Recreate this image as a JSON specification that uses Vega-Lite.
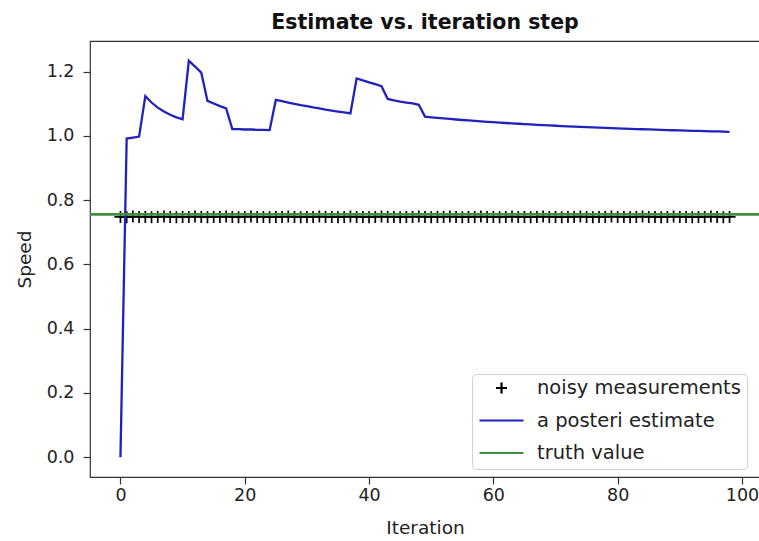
{
  "$schema": "https://vega.github.io/schema/vega-lite/v6.json",
  "width": 670,
  "height": 436,
  "autosize": {"type": "none"},
  "padding": {"left": 90, "top": 41, "right": 0, "bottom": 64},
  "background": "white",
  "config": {
    "view": {"stroke": "#333333", "strokeWidth": 1.2},
    "font": "DejaVu Sans",
    "axis": {
      "grid": false,
      "domain": false,
      "tickColor": "#333333",
      "tickWidth": 1.2,
      "tickSize": 7,
      "labelFont": "DejaVu Sans",
      "labelFontSize": 17.5,
      "labelColor": "#222222",
      "titleFont": "DejaVu Sans",
      "titleFontSize": 18.5,
      "titleFontWeight": "normal",
      "titleColor": "#222222"
    }
  },
  "title": {
    "text": "Estimate vs. iteration step",
    "font": "DejaVu Sans",
    "fontSize": 20.5,
    "fontWeight": "bold",
    "color": "#111111",
    "anchor": "middle",
    "offset": 8
  },
  "datasets": {
    "meas": [
      {"iter": 0, "speed": 0.748}, {"iter": 1, "speed": 0.747}, {"iter": 2, "speed": 0.749}, {"iter": 3, "speed": 0.748}, {"iter": 4, "speed": 0.748},
      {"iter": 5, "speed": 0.747}, {"iter": 6, "speed": 0.748}, {"iter": 7, "speed": 0.749}, {"iter": 8, "speed": 0.748}, {"iter": 9, "speed": 0.747},
      {"iter": 10, "speed": 0.748}, {"iter": 11, "speed": 0.748}, {"iter": 12, "speed": 0.749}, {"iter": 13, "speed": 0.748}, {"iter": 14, "speed": 0.747},
      {"iter": 15, "speed": 0.748}, {"iter": 16, "speed": 0.748}, {"iter": 17, "speed": 0.749}, {"iter": 18, "speed": 0.748}, {"iter": 19, "speed": 0.747},
      {"iter": 20, "speed": 0.748}, {"iter": 21, "speed": 0.749}, {"iter": 22, "speed": 0.748}, {"iter": 23, "speed": 0.748}, {"iter": 24, "speed": 0.747},
      {"iter": 25, "speed": 0.748}, {"iter": 26, "speed": 0.748}, {"iter": 27, "speed": 0.749}, {"iter": 28, "speed": 0.748}, {"iter": 29, "speed": 0.747},
      {"iter": 30, "speed": 0.748}, {"iter": 31, "speed": 0.748}, {"iter": 32, "speed": 0.749}, {"iter": 33, "speed": 0.748}, {"iter": 34, "speed": 0.748},
      {"iter": 35, "speed": 0.747}, {"iter": 36, "speed": 0.748}, {"iter": 37, "speed": 0.749}, {"iter": 38, "speed": 0.748}, {"iter": 39, "speed": 0.748},
      {"iter": 40, "speed": 0.747}, {"iter": 41, "speed": 0.748}, {"iter": 42, "speed": 0.749}, {"iter": 43, "speed": 0.748}, {"iter": 44, "speed": 0.748},
      {"iter": 45, "speed": 0.747}, {"iter": 46, "speed": 0.748}, {"iter": 47, "speed": 0.748}, {"iter": 48, "speed": 0.749}, {"iter": 49, "speed": 0.748},
      {"iter": 50, "speed": 0.747}, {"iter": 51, "speed": 0.748}, {"iter": 52, "speed": 0.748}, {"iter": 53, "speed": 0.749}, {"iter": 54, "speed": 0.748},
      {"iter": 55, "speed": 0.747}, {"iter": 56, "speed": 0.748}, {"iter": 57, "speed": 0.748}, {"iter": 58, "speed": 0.749}, {"iter": 59, "speed": 0.748},
      {"iter": 60, "speed": 0.748}, {"iter": 61, "speed": 0.747}, {"iter": 62, "speed": 0.748}, {"iter": 63, "speed": 0.749}, {"iter": 64, "speed": 0.748},
      {"iter": 65, "speed": 0.748}, {"iter": 66, "speed": 0.747}, {"iter": 67, "speed": 0.748}, {"iter": 68, "speed": 0.749}, {"iter": 69, "speed": 0.748},
      {"iter": 70, "speed": 0.748}, {"iter": 71, "speed": 0.747}, {"iter": 72, "speed": 0.748}, {"iter": 73, "speed": 0.748}, {"iter": 74, "speed": 0.749},
      {"iter": 75, "speed": 0.748}, {"iter": 76, "speed": 0.747}, {"iter": 77, "speed": 0.748}, {"iter": 78, "speed": 0.748}, {"iter": 79, "speed": 0.749},
      {"iter": 80, "speed": 0.748}, {"iter": 81, "speed": 0.748}, {"iter": 82, "speed": 0.747}, {"iter": 83, "speed": 0.748}, {"iter": 84, "speed": 0.749},
      {"iter": 85, "speed": 0.748}, {"iter": 86, "speed": 0.748}, {"iter": 87, "speed": 0.747}, {"iter": 88, "speed": 0.748}, {"iter": 89, "speed": 0.749},
      {"iter": 90, "speed": 0.748}, {"iter": 91, "speed": 0.748}, {"iter": 92, "speed": 0.747}, {"iter": 93, "speed": 0.748}, {"iter": 94, "speed": 0.748},
      {"iter": 95, "speed": 0.749}, {"iter": 96, "speed": 0.748}, {"iter": 97, "speed": 0.747}, {"iter": 98, "speed": 0.748}
    ],
    "est": [
      {"iter": 0, "speed": 0.0}, {"iter": 1, "speed": 0.992}, {"iter": 2, "speed": 0.995}, {"iter": 3, "speed": 0.998}, {"iter": 4, "speed": 1.124},
      {"iter": 5, "speed": 1.104}, {"iter": 6, "speed": 1.088}, {"iter": 7, "speed": 1.076}, {"iter": 8, "speed": 1.066}, {"iter": 9, "speed": 1.058},
      {"iter": 10, "speed": 1.052}, {"iter": 11, "speed": 1.234}, {"iter": 12, "speed": 1.216}, {"iter": 13, "speed": 1.197}, {"iter": 14, "speed": 1.109},
      {"iter": 15, "speed": 1.101}, {"iter": 16, "speed": 1.093}, {"iter": 17, "speed": 1.086}, {"iter": 18, "speed": 1.021}, {"iter": 19, "speed": 1.021},
      {"iter": 20, "speed": 1.020}, {"iter": 21, "speed": 1.020}, {"iter": 22, "speed": 1.019}, {"iter": 23, "speed": 1.019}, {"iter": 24, "speed": 1.018},
      {"iter": 25, "speed": 1.112}, {"iter": 26, "speed": 1.108}, {"iter": 27, "speed": 1.104}, {"iter": 28, "speed": 1.100}, {"iter": 29, "speed": 1.096},
      {"iter": 30, "speed": 1.093}, {"iter": 31, "speed": 1.089}, {"iter": 32, "speed": 1.086}, {"iter": 33, "speed": 1.082}, {"iter": 34, "speed": 1.079},
      {"iter": 35, "speed": 1.076}, {"iter": 36, "speed": 1.073}, {"iter": 37, "speed": 1.070}, {"iter": 38, "speed": 1.179}, {"iter": 39, "speed": 1.173},
      {"iter": 40, "speed": 1.167}, {"iter": 41, "speed": 1.161}, {"iter": 42, "speed": 1.155}, {"iter": 43, "speed": 1.115}, {"iter": 44, "speed": 1.111},
      {"iter": 45, "speed": 1.107}, {"iter": 46, "speed": 1.104}, {"iter": 47, "speed": 1.101}, {"iter": 48, "speed": 1.097}, {"iter": 49, "speed": 1.060},
      {"iter": 50, "speed": 1.058}, {"iter": 51, "speed": 1.0562}, {"iter": 52, "speed": 1.0545}, {"iter": 53, "speed": 1.0528}, {"iter": 54, "speed": 1.0512},
      {"iter": 55, "speed": 1.0496}, {"iter": 56, "speed": 1.0481}, {"iter": 57, "speed": 1.0467}, {"iter": 58, "speed": 1.0453}, {"iter": 59, "speed": 1.0440},
      {"iter": 60, "speed": 1.0427}, {"iter": 61, "speed": 1.0414}, {"iter": 62, "speed": 1.0402}, {"iter": 63, "speed": 1.0390}, {"iter": 64, "speed": 1.0379},
      {"iter": 65, "speed": 1.0368}, {"iter": 66, "speed": 1.0357}, {"iter": 67, "speed": 1.0347}, {"iter": 68, "speed": 1.0336}, {"iter": 69, "speed": 1.0327},
      {"iter": 70, "speed": 1.0317}, {"iter": 71, "speed": 1.0308}, {"iter": 72, "speed": 1.0299}, {"iter": 73, "speed": 1.0290}, {"iter": 74, "speed": 1.0282},
      {"iter": 75, "speed": 1.0273}, {"iter": 76, "speed": 1.0265}, {"iter": 77, "speed": 1.0257}, {"iter": 78, "speed": 1.0250}, {"iter": 79, "speed": 1.0242},
      {"iter": 80, "speed": 1.0235}, {"iter": 81, "speed": 1.0228}, {"iter": 82, "speed": 1.0221}, {"iter": 83, "speed": 1.0214}, {"iter": 84, "speed": 1.0208},
      {"iter": 85, "speed": 1.0201}, {"iter": 86, "speed": 1.0195}, {"iter": 87, "speed": 1.0189}, {"iter": 88, "speed": 1.0183}, {"iter": 89, "speed": 1.0177},
      {"iter": 90, "speed": 1.0171}, {"iter": 91, "speed": 1.0165}, {"iter": 92, "speed": 1.0160}, {"iter": 93, "speed": 1.0155}, {"iter": 94, "speed": 1.0149},
      {"iter": 95, "speed": 1.0144}, {"iter": 96, "speed": 1.0139}, {"iter": 97, "speed": 1.0134}, {"iter": 98, "speed": 1.0129}
    ],
    "truth": [{"speed": 0.756}]
  },
  "layer": [
    {
      "data": {"name": "meas"},
      "transform": [{"calculate": "'noisy measurements'", "as": "series"}],
      "mark": {"type": "point", "filled": false, "size": 2304, "strokeWidth": 1.7, "opacity": 1},
      "encoding": {
        "x": {
          "field": "iter", "type": "quantitative", "title": "Iteration",
          "scale": {"domain": [-4.9, 102.9], "nice": false, "zero": false},
          "axis": {"values": [0, 20, 40, 60, 80, 100], "labelPadding": 2, "titlePadding": 15}
        },
        "y": {
          "field": "speed", "type": "quantitative", "title": "Speed",
          "scale": {"domain": [-0.0617, 1.2955], "nice": false, "zero": false},
          "axis": {"values": [0, 0.2, 0.4, 0.6, 0.8, 1.0, 1.2], "format": ".1f", "labelPadding": 9, "titlePadding": 12}
        },
        "color": {
          "field": "series", "type": "nominal",
          "scale": {"domain": ["noisy measurements", "a posteri estimate", "truth value"], "range": ["#000000", "#2121bc", "#3f8f3f"]},
          "legend": {
            "title": null,
            "orient": "none",
            "legendX": 382,
            "legendY": 333,
            "padding": 6,
            "fillColor": "rgba(255,255,255,0.85)",
            "strokeColor": "#d0d0d0",
            "cornerRadius": 4,
            "symbolSize": 1936,
            "symbolStrokeWidth": 2.2,
            "symbolFillColor": "transparent",
            "clipHeight": 16,
            "rowPadding": 12.5,
            "labelOffset": 12,
            "labelLimit": 400,
            "labelFont": "DejaVu Sans",
            "labelFontSize": 19.5,
            "labelColor": "#222222",
            "labelBaseline": "middle"
          }
        },
        "shape": {
          "field": "series", "type": "nominal",
          "scale": {"domain": ["noisy measurements", "a posteri estimate", "truth value"], "range": ["M-0.25,0H0.25M0,-0.25V0.25", "stroke", "stroke"]},
          "legend": {
            "title": null,
            "orient": "none",
            "legendX": 382,
            "legendY": 333,
            "padding": 6,
            "fillColor": "rgba(255,255,255,0.85)",
            "strokeColor": "#d0d0d0",
            "cornerRadius": 4,
            "symbolSize": 1936,
            "symbolStrokeWidth": 2.2,
            "symbolFillColor": "transparent",
            "clipHeight": 16,
            "rowPadding": 12.5,
            "labelOffset": 12,
            "labelLimit": 400,
            "labelFont": "DejaVu Sans",
            "labelFontSize": 19.5,
            "labelColor": "#222222",
            "labelBaseline": "middle"
          }
        }
      }
    },
    {
      "data": {"name": "est"},
      "transform": [{"calculate": "'a posteri estimate'", "as": "series"}],
      "mark": {"type": "line", "strokeWidth": 2.3},
      "encoding": {
        "x": {"field": "iter", "type": "quantitative"},
        "y": {"field": "speed", "type": "quantitative"},
        "color": {"field": "series", "type": "nominal"}
      }
    },
    {
      "data": {"name": "truth"},
      "transform": [{"calculate": "'truth value'", "as": "series"}],
      "mark": {"type": "rule", "strokeWidth": 2.8},
      "encoding": {
        "y": {"field": "speed", "type": "quantitative"},
        "color": {"field": "series", "type": "nominal"}
      }
    }
  ]
}
